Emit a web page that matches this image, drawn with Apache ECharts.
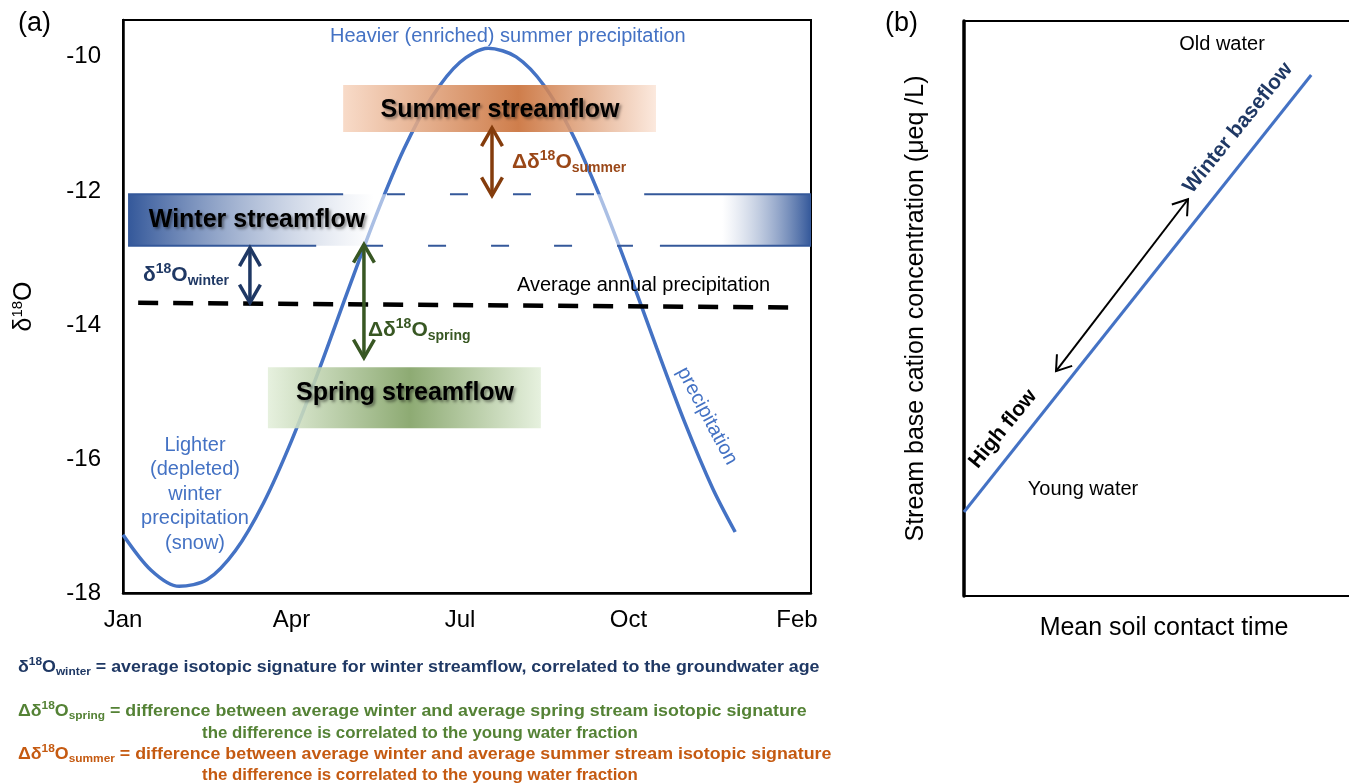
<!DOCTYPE html>
<html>
<head>
<meta charset="UTF-8">
<script src="https://cdn.jsdelivr.net/npm/echarts/dist/echarts.min.js"></script>
<style>
html, body { margin: 0; padding: 0; background: #fff; }
#chart { width: 1349px; height: 784px; }
</style>
</head>
<body>
<div id="chart"></div>
<script>
// panel (a): months on x (Jan = 0), d18O on y
var monthTicks = ['Jan', 'Apr', 'Jul', 'Oct', 'Feb'];
var precipMonth = [0, 0.5, 1.0, 1.5, 2.0, 2.5, 3.0, 3.5, 4.0, 4.5, 5.0, 5.5, 6.0, 6.5, 7.0, 7.5, 8.0, 8.5, 9.0, 9.5, 10.0, 10.5, 10.9];
var precipD18O = [-17.13, -17.66, -17.9, -17.8, -17.37, -16.66, -15.73, -14.65, -13.5, -12.38, -11.38, -10.6, -10.08, -9.87, -10.0, -10.43, -11.15, -12.1, -13.19, -14.34, -15.45, -16.44, -17.09];
var annualMeanLine = [[0.27, -13.67], [12.1, -13.74]];

// bands: [x from, x to, top, bottom]
var winterBand = [0.09, 12.25, -12.05, -12.82];
var summerBand = [3.92, 9.49, -10.42, -11.12];
var springBand = [2.58, 7.44, -14.63, -15.54];
// band edges: [x from, x to, y]
var winterSolidEdges = [[0.09, 3.92, -12.05], [9.28, 12.25, -12.05], [0.09, 3.44, -12.82], [9.56, 12.25, -12.82]];
var winterDashedEdges = [[4.7, 8.49, -12.05], [4.31, 9.08, -12.82]];

// double arrows: [x1, y1, x2, y2]
var winterArrow = [2.26, -12.85, 2.26, -13.67];
var springArrow = [4.29, -12.8, 4.29, -14.49];
var summerArrow = [6.57, -11.06, 6.57, -12.07];

// panel (b)
var contactTime = [0, 8.68];
var baseCation = [1.46, 9.06];
var flowArrow = [2.3, 3.91, 5.6, 6.9];

var FONT = "'Liberation Sans', Arial, sans-serif";
var BLUE = '#4472C4';
var NAVY = '#1F3864';
var DKBLUE = '#34589A';

var chart = echarts.init(document.getElementById('chart'));

function bandItem(stops, opacity) {
	return function (params, api) {
		var p1 = api.coord([api.value(0), api.value(2)]);
		var p2 = api.coord([api.value(1), api.value(3)]);
		return {
			type: 'rect',
			shape: { x: p1[0], y: p1[1], width: p2[0] - p1[0], height: p2[1] - p1[1] },
			style: { fill: new echarts.graphic.LinearGradient(0, 0, 1, 0, stops), opacity: opacity }
		};
	};
}

function edgeItem(dash) {
	return function (params, api) {
		var a = api.coord([api.value(0), api.value(2)]);
		var b = api.coord([api.value(1), api.value(2)]);
		return {
			type: 'line',
			shape: { x1: a[0], y1: a[1], x2: b[0], y2: b[1] },
			style: { stroke: DKBLUE, lineWidth: 2, lineDash: dash }
		};
	};
}

function arrowItem(color, width, arm, spread) {
	return function (params, api) {
		var p1 = api.coord([api.value(0), api.value(1)]);
		var p2 = api.coord([api.value(2), api.value(3)]);
		var ang = Math.atan2(p2[1] - p1[1], p2[0] - p1[0]);
		function head(p, a) {
			return [
				[p[0] - arm * Math.cos(a - spread), p[1] - arm * Math.sin(a - spread)],
				[p[0], p[1]],
				[p[0] - arm * Math.cos(a + spread), p[1] - arm * Math.sin(a + spread)]
			];
		}
		var st = { stroke: color, lineWidth: width, fill: null };
		return {
			type: 'group',
			children: [
				{ type: 'line', shape: { x1: p1[0], y1: p1[1], x2: p2[0], y2: p2[1] }, style: st },
				{ type: 'polyline', shape: { points: head(p2, ang) }, style: st },
				{ type: 'polyline', shape: { points: head(p1, ang + Math.PI) }, style: st }
			]
		};
	};
}

function txt(x, y, text, o) {
	o = o || {};
	var style = {
		text: text,
		fill: o.color || '#000',
		font: (o.weight || 'normal') + ' ' + (o.size || 20) + 'px ' + FONT,
		align: o.align || 'left', textAlign: o.align || 'left',
		verticalAlign: 'middle', textVerticalAlign: 'middle'
	};
	if (o.lineHeight) style.lineHeight = o.lineHeight;
	if (o.rich) style.rich = o.rich;
	if (o.shadow) {
		style.textShadowColor = 'rgba(0,0,0,0.45)';
		style.textShadowBlur = 3;
		style.textShadowOffsetX = 2;
		style.textShadowOffsetY = 2;
	}
	return { type: 'text', x: x, y: y, z: 100, rotation: o.rotation || 0, scaleX: o.scaleX || 1, style: style };
}

// rich styles for subscript / superscript labels
function isoRich(color, main, small) {
	var f = { fontFamily: FONT, fontWeight: 'bold', fill: color, color: color };
	return {
		m: Object.assign({}, f, { fontSize: main, lineHeight: main + 5, verticalAlign: 'middle' }),
		p: Object.assign({}, f, { fontSize: small, lineHeight: small, verticalAlign: 'top' }),
		b: Object.assign({}, f, { fontSize: small, lineHeight: small, verticalAlign: 'bottom' })
	};
}

var precipData = precipMonth.map(function (m, i) { return [m, precipD18O[i]]; });

var option = {
	animation: false,
	backgroundColor: '#fff',
	grid: [
		{ left: 123, top: 20, width: 688, height: 573, show: true, borderColor: '#000', borderWidth: 2, containLabel: false, outerBoundsMode: 'none' },
		{ left: 964, top: 21, width: 400, height: 575, show: true, borderColor: '#000', borderWidth: 2, containLabel: false, outerBoundsMode: 'none' }
	],
	xAxis: [
		{
			gridIndex: 0, type: 'value', min: 0, max: 12.25, interval: 3,
			axisLine: { show: true, onZero: false, lineStyle: { color: '#000', width: 2.5 } },
			axisTick: { show: false }, splitLine: { show: false },
			axisLabel: {
				color: '#000', fontSize: 24, fontFamily: FONT, margin: 15,
				formatter: function (v) {
					var i = v / 3;
					return (Math.abs(i - Math.round(i)) < 1e-6 && monthTicks[Math.round(i)]) ? monthTicks[Math.round(i)] : '';
				}
			}
		},
		{
			gridIndex: 1, type: 'value', min: 0, max: 10,
			axisLine: { show: true, onZero: false, lineStyle: { color: '#000', width: 2 } },
			axisTick: { show: false }, splitLine: { show: false }, axisLabel: { show: false },
			name: 'Mean soil contact time', nameLocation: 'middle', nameGap: 20,
			nameTextStyle: { color: '#000', fontSize: 25, fontFamily: FONT }
		}
	],
	yAxis: [
		{
			gridIndex: 0, type: 'value', min: -18, max: -9.45, interval: 2,
			axisLine: { show: true, onZero: false, lineStyle: { color: '#000', width: 2.5 } },
			axisTick: { show: false }, splitLine: { show: false },
			axisLabel: {
				color: '#000', fontSize: 24, fontFamily: FONT, margin: 22,
				formatter: function (v) { return Math.abs(v % 2) < 1e-6 ? String(v) : ''; }
			},
			name: '{m|δ}{p|18}{m|O}', nameLocation: 'middle', nameRotate: 90, nameGap: 85,
			nameTextStyle: {
				rich: {
					m: { fontSize: 25, fontFamily: FONT, color: '#000', lineHeight: 28, verticalAlign: 'middle' },
					p: { fontSize: 15, fontFamily: FONT, color: '#000', lineHeight: 15, verticalAlign: 'top' }
				}
			}
		},
		{
			gridIndex: 1, type: 'value', min: 0, max: 10,
			axisLine: { show: true, onZero: false, lineStyle: { color: '#000', width: 3.5 } },
			axisTick: { show: false }, splitLine: { show: false }, axisLabel: { show: false },
			name: 'Stream base cation concentration (μeq /L)', nameLocation: 'middle', nameRotate: 90, nameGap: 35,
			nameTextStyle: { color: '#000', fontSize: 25, fontFamily: FONT }
		}
	],
	series: [
		{
			type: 'line', xAxisIndex: 0, yAxisIndex: 0, data: precipData, smooth: 0.3,
			symbol: 'none', z: 2, lineStyle: { color: BLUE, width: 3.5 }
		},
		{
			type: 'line', xAxisIndex: 0, yAxisIndex: 0, data: annualMeanLine,
			symbol: 'none', z: 4, lineStyle: { color: '#000', width: 4.5, type: [20, 15] }
		},
		{
			type: 'custom', xAxisIndex: 0, yAxisIndex: 0, z: 3, data: [winterBand],
			renderItem: bandItem([
				{ offset: 0, color: 'rgba(52,88,154,1)' },
				{ offset: 0.36, color: 'rgba(255,255,255,0.55)' },
				{ offset: 0.87, color: 'rgba(255,255,255,0.55)' },
				{ offset: 1, color: 'rgba(52,88,154,1)' }
			], 1)
		},
		{
			type: 'custom', xAxisIndex: 0, yAxisIndex: 0, z: 3, data: [summerBand],
			renderItem: bandItem([
				{ offset: 0, color: '#F7D6C1' },
				{ offset: 0.56, color: '#C86C33' },
				{ offset: 1, color: '#FBE6D9' }
			], 0.88)
		},
		{
			type: 'custom', xAxisIndex: 0, yAxisIndex: 0, z: 3, data: [springBand],
			renderItem: bandItem([
				{ offset: 0, color: '#E3EFDA' },
				{ offset: 0.52, color: '#7E9F60' },
				{ offset: 1, color: '#E3EFDA' }
			], 0.88)
		},
		{
			type: 'custom', xAxisIndex: 0, yAxisIndex: 0, z: 4, data: winterSolidEdges,
			renderItem: edgeItem(null)
		},
		{
			type: 'custom', xAxisIndex: 0, yAxisIndex: 0, z: 4, data: winterDashedEdges,
			renderItem: edgeItem([18, 45])
		},
		{
			type: 'custom', xAxisIndex: 0, yAxisIndex: 0, z: 5, data: [winterArrow],
			renderItem: arrowItem(NAVY, 3.5, 21, 0.52)
		},
		{
			type: 'custom', xAxisIndex: 0, yAxisIndex: 0, z: 5, data: [springArrow],
			renderItem: arrowItem('#385723', 3.5, 21, 0.52)
		},
		{
			type: 'custom', xAxisIndex: 0, yAxisIndex: 0, z: 5, data: [summerArrow],
			renderItem: arrowItem('#843C0C', 3.5, 21, 0.52)
		},
		{
			type: 'line', xAxisIndex: 1, yAxisIndex: 1,
			data: contactTime.map(function (t, i) { return [t, baseCation[i]]; }),
			symbol: 'none', z: 2, lineStyle: { color: BLUE, width: 3 }
		},
		{
			type: 'custom', xAxisIndex: 1, yAxisIndex: 1, z: 5, data: [flowArrow],
			renderItem: arrowItem('#000', 2, 17, 0.6)
		}
	],
	graphic: [
		txt(18, 24, '(a)', { size: 27 }),
		txt(885, 24, '(b)', { size: 27 }),
		txt(330, 36, 'Heavier (enriched) summer precipitation', { color: BLUE }),
		txt(195, 494, 'Lighter\n(depleted)\nwinter\nprecipitation\n(snow)', { color: BLUE, align: 'center', lineHeight: 24.5 }),
		txt(707, 416, 'precipitation', { color: BLUE, align: 'center', rotation: -1.08 }),
		txt(517, 285, 'Average annual precipitation'),
		txt(500, 110, 'Summer streamflow', { weight: 'bold', size: 25, align: 'center', shadow: true }),
		txt(257, 220, 'Winter streamflow', { weight: 'bold', size: 25, align: 'center', shadow: true }),
		txt(405, 393, 'Spring streamflow', { weight: 'bold', size: 25, align: 'center', shadow: true }),
		txt(143, 275, '{m|δ}{p|18}{m|O}{b|winter}', { color: NAVY, rich: isoRich(NAVY, 21, 14) }),
		txt(368, 330, '{m|Δδ}{p|18}{m|O}{b|spring}', { color: '#385723', rich: isoRich('#385723', 21, 14) }),
		txt(512, 162, '{m|Δδ}{p|18}{m|O}{b|summer}', { color: '#9A4717', rich: isoRich('#9A4717', 21, 14) }),
		txt(1222, 44, 'Old water', { align: 'center' }),
		txt(1083, 489, 'Young water', { align: 'center' }),
		txt(1003, 429, 'High flow', { weight: 'bold', size: 21, align: 'center', rotation: 0.89 }),
		txt(1238, 128, 'Winter baseflow', { weight: 'bold', size: 21, align: 'center', rotation: 0.89, color: NAVY }),
		txt(18, 667, '{m|δ}{p|18}{m|O}{b|winter}{m| = average isotopic signature for winter streamflow, correlated to the groundwater age}',
			{ color: NAVY, rich: isoRich(NAVY, 16.5, 11), scaleX: 1.08 }),
		txt(18, 711, '{m|Δδ}{p|18}{m|O}{b|spring}{m| = difference between average winter and average spring stream isotopic signature}',
			{ color: '#548235', rich: isoRich('#548235', 16.5, 11), scaleX: 1.08 }),
		txt(420, 733, 'the difference is correlated to the young water fraction',
			{ color: '#548235', weight: 'bold', size: 16.5, align: 'center', scaleX: 1.02 }),
		txt(18, 754, '{m|Δδ}{p|18}{m|O}{b|summer}{m| = difference between average winter and average summer stream isotopic signature}',
			{ color: '#C55A11', rich: isoRich('#C55A11', 16.5, 11), scaleX: 1.08 }),
		txt(420, 775, 'the difference is correlated to the young water fraction',
			{ color: '#C55A11', weight: 'bold', size: 16.5, align: 'center', scaleX: 1.02 })
	]
};

chart.setOption(option);
</script>
</body>
</html>
